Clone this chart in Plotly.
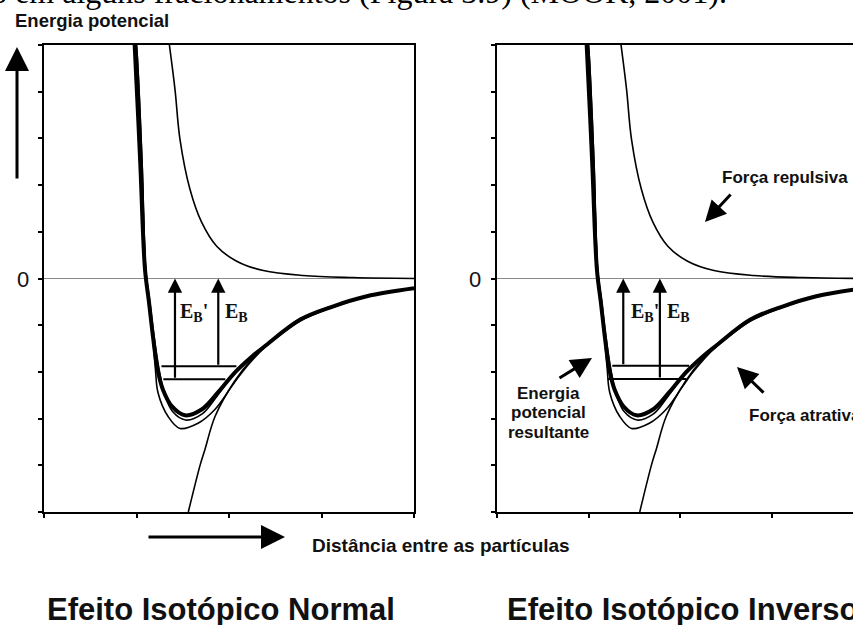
import plotly.graph_objects as go

# ---------------- data ----------------
# Repulsive-force curve (thin)
rep_x = [1.355, 1.416, 1.470, 1.578, 1.705, 1.867, 2.083, 2.371, 2.80, 3.34, 4.0]
rep_y = [5.01, 4.05, 2.98, 1.91, 1.20, 0.69, 0.37, 0.17, 0.064, 0.02, 0.0]

# Attractive-force curve (thin)
att_x = [1.56, 1.69, 1.74, 1.85, 2.06, 2.25, 2.40, 2.77, 3.12, 3.49, 4.0]
att_y = [-5.0, -3.98, -3.66, -2.95, -2.2, -1.72, -1.45, -0.91, -0.62, -0.39, -0.21]

# Resultant potential energy (thick)
res_x = [0.97, 0.98, 1.04, 1.092, 1.135, 1.178, 1.228, 1.286, 1.384, 1.524, 1.708, 1.881, 2.065, 2.249, 2.40, 2.77, 3.12, 3.49, 4.0]
res_y = [5.3, 5.0, 2.5, 0.19, -0.51, -1.24, -1.95, -2.38, -2.74, -2.93, -2.80, -2.44, -2.01, -1.67, -1.43, -0.88, -0.60, -0.38, -0.21]

# Second resultant curve (thin, just below the thick one)
res2_x = [0.98, 1.0, 1.06, 1.10, 1.145, 1.19, 1.245, 1.30, 1.39, 1.53, 1.71, 1.87, 2.05, 2.24, 2.40, 2.77, 3.12, 3.49, 4.0]
res2_y = [5.3, 5.0, 2.5, 0.19, -0.51, -1.24, -1.95, -2.45, -2.85, -3.03, -2.90, -2.52, -2.05, -1.70, -1.44, -0.89, -0.61, -0.38, -0.21]

# Third resultant curve (thin, deepest well)
res3_x = [0.98, 1.0, 1.06, 1.10, 1.14, 1.175, 1.205, 1.232, 1.34, 1.47, 1.665, 1.85, 2.03, 2.14, 2.40, 2.77, 3.12, 3.49, 4.0]
res3_y = [5.3, 5.0, 2.5, 0.19, -0.51, -1.24, -1.95, -2.44, -2.95, -3.21, -3.10, -2.80, -2.31, -2.01, -1.45, -0.89, -0.61, -0.38, -0.21]

# Vibrational levels [y, x_start, x_end]
normal_upper = [-1.88, 1.27, 2.08]
normal_lower = [-2.16, 1.29, 1.96]
inverse_upper = [-1.87, 1.26, 2.10]
inverse_lower = [-2.15, 1.21, 2.07]

# Energy arrows: x position, start level (arrow head at 0)
normal_arrows = {"EBp": (1.416, -2.16), "EB": (1.884, -1.88)}
inverse_arrows = {"EBp": (1.38, -1.87), "EB": (1.78, -2.15)}

# Tick positions
y_ticks = [-5, -4, -3, -2, -1, 0, 1, 2, 3, 4, 5]
x_ticks = [0, 1, 2, 3, 4]

W, H = 853, 625


def px(v):
    return v / W


def py(v):
    return 1 - v / H


fig = go.Figure()

for xa, ya in (("x", "y"), ("x2", "y2")):
    common = dict(xaxis=xa, yaxis=ya, mode="lines", hoverinfo="skip", showlegend=False)
    fig.add_trace(go.Scatter(x=rep_x, y=rep_y, line=dict(color="black", width=1.6, shape="spline"), **common))
    fig.add_trace(go.Scatter(x=att_x, y=att_y, line=dict(color="black", width=1.6, shape="spline"), **common))
    fig.add_trace(go.Scatter(x=res3_x, y=res3_y, line=dict(color="black", width=1.6, shape="spline"), **common))
    fig.add_trace(go.Scatter(x=res2_x, y=res2_y, line=dict(color="black", width=1.6, shape="spline"), **common))
    fig.add_trace(go.Scatter(x=res_x, y=res_y, line=dict(color="black", width=4, shape="spline"), **common))

for (xa, ya), lv in ((("x", "y"), (normal_upper, normal_lower)), (("x2", "y2"), (inverse_upper, inverse_lower))):
    for level in lv:
        fig.add_trace(go.Scatter(x=[level[1], level[2]], y=[level[0], level[0]], xaxis=xa, yaxis=ya,
                                 mode="lines", line=dict(color="black", width=2),
                                 hoverinfo="skip", showlegend=False))

# Cut-off document text above the figure (pixel-space overlay axis)
fig.add_trace(go.Scatter(x=[727], y=[11], xaxis="x3", yaxis="y3", mode="text",
                         text=["o em alguns fracionamentos (Figura 3.9) (MOOK, 2001)."],
                         textposition="top left", cliponaxis=False, hoverinfo="skip", showlegend=False,
                         textfont=dict(family="Liberation Serif", size=32, color="black")))

annotations = []

# Energy arrows + E_B labels
for (xr, yr), arrows, lbl_x in ((("x", "y"), normal_arrows, (1.62, 2.08)),
                               (("x2", "y2"), inverse_arrows, (1.62, 1.98))):
    for key in ("EBp", "EB"):
        ax_, y0 = arrows[key]
        annotations.append(dict(x=ax_, y=0, ax=ax_, ay=y0, xref=xr, yref=yr, axref=xr, ayref=yr,
                                showarrow=True, arrowhead=2, arrowsize=1.3, arrowwidth=2.2,
                                arrowcolor="black", text=""))
    annotations.append(dict(x=lbl_x[0], y=-0.73, xref=xr, yref=yr, showarrow=False,
                            xanchor="center", yanchor="middle",
                            text="<b>E<sub>B</sub>'</b>",
                            font=dict(family="Liberation Serif", size=20, color="#111")))
    annotations.append(dict(x=lbl_x[1], y=-0.73, xref=xr, yref=yr, showarrow=False,
                            xanchor="center", yanchor="middle",
                            text="<b>E<sub>B</sub></b>",
                            font=dict(family="Liberation Serif", size=20, color="#111")))


def label(x, y, text, size, anchor="left", family="Liberation Sans"):
    annotations.append(dict(x=px(x), y=py(y), xref="paper", yref="paper", xanchor=anchor, yanchor="middle",
                            showarrow=False, text=text, font=dict(family=family, size=size, color="#111")))


def arrow(x, y, ax, ay, size=1.4, width=3):
    annotations.append(dict(x=px(x), y=py(y), xref="paper", yref="paper", ax=ax, ay=ay, showarrow=True,
                            arrowhead=2, arrowsize=size, arrowwidth=width, arrowcolor="black", text=""))


# "0" labels
label(23, 279, "0", 22, anchor="center")
label(475, 279, "0", 22, anchor="center")

# Axis label "Energia potencial" and its arrow
label(13, 21, "<b>Energia potencial</b>", 18.5)
arrow(17, 47, 0, 133, size=1.6)

# Distance label and arrow
label(310, 545, "<b>Distância entre as partículas</b>", 19)
arrow(285, 537, -138, 0, size=1.6)

# Right panel labels
label(720, 178, "<b>Força repulsiva</b>", 17)
arrow(705, 222, 27, -29)

label(548, 393, "<b>Energia</b>", 17, anchor="center")
label(548, 412, "<b>potencial</b>", 17, anchor="center")
label(548, 432, "<b>resultante</b>", 17, anchor="center")
arrow(592, 358, -34, 21)

label(747, 415, "<b>Força atrativa</b>", 17)
arrow(737, 367, 28, 27)

# Titles
label(45, 609, "<b>Efeito Isotópico Normal</b>", 31)
label(505, 609, "<b>Efeito Isotópico Inverso</b>", 31)

ydom = [py(512), py(45)]
xaxis_common = dict(showline=True, linewidth=2, linecolor="black", mirror=True, ticks="outside",
                    ticklen=4, tickwidth=1.5, tickcolor="black", tickvals=x_ticks, showticklabels=False,
                    showgrid=False, zeroline=False, fixedrange=True)
yaxis_common = dict(showline=True, linewidth=2, linecolor="black", ticks="outside", ticklen=4,
                    tickwidth=1.5, tickcolor="black", tickvals=y_ticks, showticklabels=False,
                    showgrid=False, zeroline=True, zerolinecolor="#8a8a8a", zerolinewidth=1,
                    range=[-5, 5], domain=ydom, fixedrange=True)

fig.update_layout(
    width=W, height=H,
    margin=dict(l=0, r=0, t=0, b=0),
    paper_bgcolor="white", plot_bgcolor="rgba(0,0,0,0)",
    xaxis=dict(domain=[px(44), px(414)], range=[0, 4], anchor="y", **xaxis_common),
    yaxis=dict(anchor="x", mirror=True, **yaxis_common),
    xaxis2=dict(domain=[px(497), 1], range=[0, (W - 497) / 91.5], anchor="y2", **xaxis_common),
    yaxis2=dict(anchor="x2", mirror=False, **yaxis_common),
    xaxis3=dict(domain=[0, 1], range=[0, W], anchor="y3", visible=False, fixedrange=True),
    yaxis3=dict(domain=[0, 1], range=[H, 0], anchor="x3", visible=False, fixedrange=True),
    annotations=annotations,
    showlegend=False,
)

fig.write_html("out.html")
